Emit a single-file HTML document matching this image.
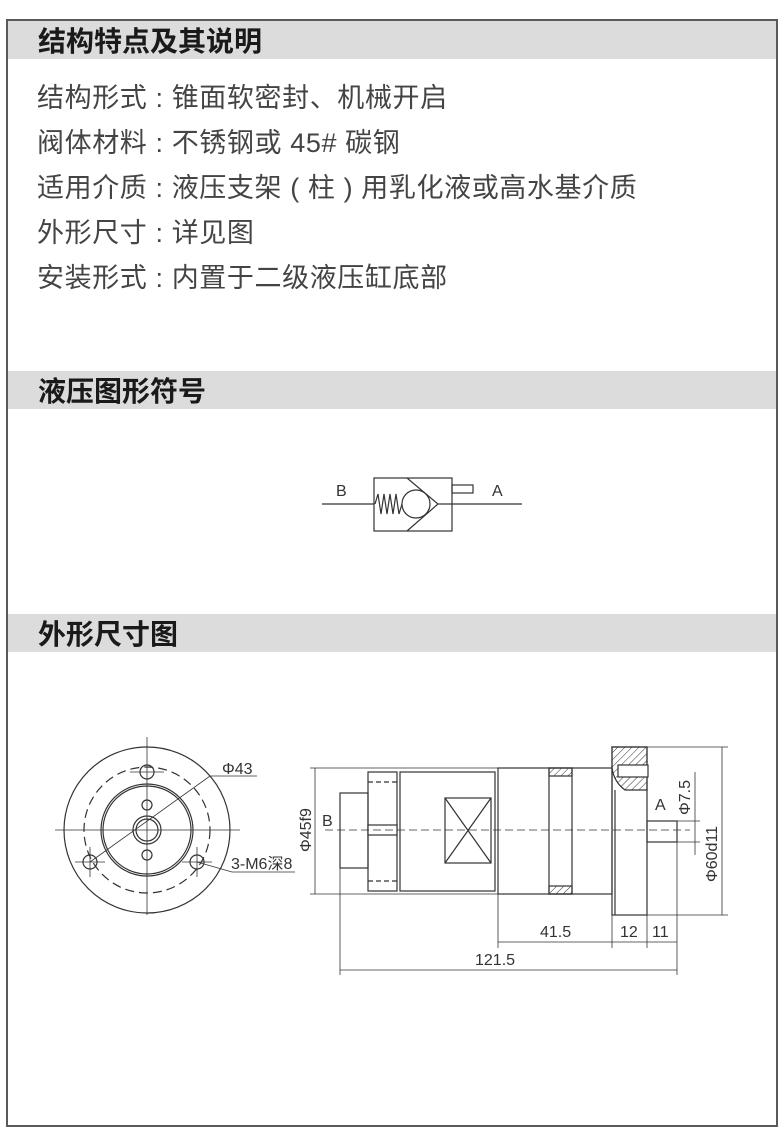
<!DOCTYPE html>
<html><head><meta charset="utf-8"><style>
body{margin:0;background:#fff;width:784px;height:1148px;overflow:hidden;font-family:"Liberation Sans","Noto Sans CJK SC",sans-serif}
.frame{position:absolute;left:6px;top:19px;width:768px;height:1104px;border:2px solid #5a5a5a}
.hd{position:absolute;left:8px;width:768px;height:38px;background:#dcdcdc;font-weight:bold;font-size:28px;color:#1a1a1a;line-height:38px;padding-left:30px;box-sizing:border-box;font-family:"Noto Sans CJK SC",sans-serif}
.ln{position:absolute;left:37px;font-size:27px;letter-spacing:0.6px;color:#444;font-family:"Liberation Sans","Noto Sans CJK SC",sans-serif;white-space:nowrap}
svg{position:absolute;left:0;top:0}
</style></head><body>
<div class="frame"></div>
<div class="hd" style="top:21px">结构特点及其说明</div>
<div class="ln" style="top:76px">结构形式 : 锥面软密封、机械开启</div>
<div class="ln" style="top:121px">阀体材料 : 不锈钢或 45# 碳钢</div>
<div class="ln" style="top:166px">适用介质 : 液压支架 ( 柱 ) 用乳化液或高水基介质</div>
<div class="ln" style="top:211px">外形尺寸 : 详见图</div>
<div class="ln" style="top:256px">安装形式 : 内置于二级液压缸底部</div>
<div class="hd" style="top:371px">液压图形符号</div>
<div class="hd" style="top:614px">外形尺寸图</div>
<svg width="784" height="1148" viewBox="0 0 784 1148" font-family="Liberation Sans,sans-serif" fill="none" stroke="#333" stroke-width="1.2">
<defs><pattern id="h" width="5" height="5" patternUnits="userSpaceOnUse" patternTransform="rotate(45)"><line x1="0" y1="0" x2="0" y2="5" stroke="#333" stroke-width="1"/></pattern></defs>
<line x1="322" y1="504" x2="522" y2="504"/>
<rect x="374" y="478" width="78" height="53" fill="#fff"/>
<rect x="452" y="485" width="21" height="8"/>
<polyline points="407,478 438,504 407,531"/>
<circle cx="416" cy="504" r="14" fill="#fff"/>
<polyline points="375,504 378,494 381,514 384,494 387,514 390,494 393,514 396,494 399,514 402,504"/>
<line x1="438" y1="504" x2="452" y2="504"/>
<g fill="#333" stroke="none" font-size="16"><text x="336" y="496">B</text><text x="492" y="496">A</text></g>
<circle cx="147" cy="830" r="83"/>
<circle cx="147" cy="830" r="63" stroke-dasharray="9,5"/>
<circle cx="147" cy="830" r="46"/><circle cx="147" cy="830" r="44"/>
<circle cx="147" cy="830" r="14"/><circle cx="147" cy="830" r="11"/>
<circle cx="147" cy="772" r="7"/><circle cx="90" cy="862" r="7"/><circle cx="197" cy="862" r="7"/>
<circle cx="147" cy="805" r="5"/><circle cx="147" cy="855" r="5"/>
<line x1="55" y1="830" x2="240" y2="830" stroke-width="0.8"/>
<line x1="147" y1="737" x2="147" y2="915" stroke-width="0.8"/>
<line x1="130" y1="772" x2="164" y2="772" stroke-width="0.8"/>
<line x1="75" y1="862" x2="105" y2="862" stroke-width="0.8"/><line x1="90" y1="847" x2="90" y2="877" stroke-width="0.8"/>
<line x1="182" y1="862" x2="212" y2="862" stroke-width="0.8"/><line x1="197" y1="847" x2="197" y2="877" stroke-width="0.8"/>
<polyline points="90,862 210,776 257,776" stroke-width="0.8"/>
<polyline points="197,862 232,872 295,872" stroke-width="0.8"/>
<g fill="#333" stroke="none" font-size="16"><text x="222" y="774">Φ43</text><text x="231" y="869">3-M6深8</text></g>
<rect x="340" y="793" width="28" height="75"/>
<rect x="368" y="772" width="29" height="119"/>
<line x1="368" y1="782" x2="397" y2="782" stroke-dasharray="5,3"/><line x1="368" y1="881" x2="397" y2="881" stroke-dasharray="5,3"/>
<rect x="368" y="825" width="29" height="10" fill="#fff"/>
<rect x="400" y="772" width="95" height="119"/>
<rect x="445" y="798" width="46" height="65"/><line x1="445" y1="798" x2="491" y2="863"/><line x1="491" y1="798" x2="445" y2="863"/>
<rect x="498" y="768" width="114" height="126"/>
<rect x="549" y="768" width="23" height="126"/>
<rect x="549" y="768" width="23" height="8" fill="url(#h)"/><rect x="549" y="886" width="23" height="8" fill="url(#h)"/>
<rect x="612" y="747" width="35" height="168"/>
<line x1="615" y1="790" x2="615" y2="915"/>
<path d="M612 747 H647 V790 H625 Q614 782 612 768 Z" fill="url(#h)"/>
<rect x="618" y="765" width="30" height="12" fill="#fff"/>
<rect x="647" y="821" width="30" height="21"/>
<line x1="325" y1="830" x2="690" y2="830" stroke-dasharray="8,4" stroke-width="0.8"/>
<g stroke-width="0.8">
<line x1="310" y1="768" x2="498" y2="768"/><line x1="310" y1="894" x2="498" y2="894"/><line x1="315" y1="768" x2="315" y2="894"/>
<line x1="647" y1="747" x2="728" y2="747"/><line x1="647" y1="915" x2="728" y2="915"/><line x1="722" y1="747" x2="722" y2="915"/>
<line x1="677" y1="821" x2="700" y2="821"/><line x1="677" y1="842" x2="700" y2="842"/><line x1="695" y1="772" x2="695" y2="855"/>
<line x1="340" y1="868" x2="340" y2="975"/><line x1="498" y1="894" x2="498" y2="948"/><line x1="612" y1="915" x2="612" y2="948"/><line x1="647" y1="915" x2="647" y2="948"/><line x1="677" y1="842" x2="677" y2="975"/>
<line x1="498" y1="942" x2="677" y2="942"/><line x1="340" y1="970" x2="677" y2="970"/>
</g>
<g fill="#333" stroke="none" font-size="16">
<text x="322" y="826">B</text><text x="655" y="810">A</text>
<text x="540" y="937">41.5</text><text x="620" y="937">12</text><text x="652" y="937">11</text><text x="475" y="965">121.5</text>
<text transform="translate(311,852) rotate(-90)">Φ45f9</text>
<text transform="translate(717,882) rotate(-90)">Φ60d11</text>
<text transform="translate(690,815) rotate(-90)">Φ7.5</text>
</g>
</svg>
</body></html>
